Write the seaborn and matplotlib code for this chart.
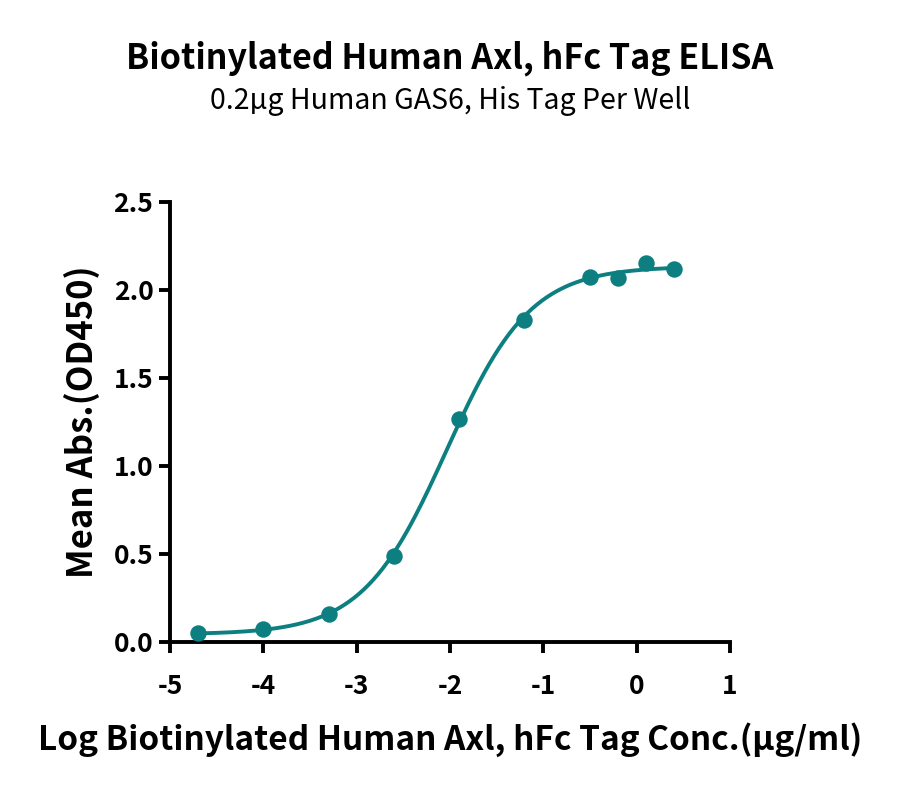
import numpy as np
import pandas as pd
import matplotlib
matplotlib.use("Agg")
import matplotlib.pyplot as plt
import seaborn as sns

# ---- data ----
log_conc = [-4.699, -4.0, -3.301, -2.602, -1.903, -1.204, -0.505, -0.204, 0.097, 0.398]
mean_abs = [0.051, 0.074, 0.161, 0.490, 1.266, 1.828, 2.073, 2.069, 2.155, 2.122]
x_ticks = [-5, -4, -3, -2, -1, 0, 1]
y_ticks = [0.0, 0.5, 1.0, 1.5, 2.0, 2.5]
title = "Biotinylated Human Axl, hFc Tag ELISA"
subtitle = "0.2\u00b5g Human GAS6, His Tag Per Well"
x_label = "Log Biotinylated Human Axl, hFc Tag Conc.(\u00b5g/ml)"
y_label = "Mean Abs.(OD450)"
color = "#0E7F80"

df = pd.DataFrame({"x": log_conc, "y": mean_abs})

# ---- 4PL fit (Gauss-Newton with damping) ----
def f4(p, x):
    b, t, c, h = p
    return b + (t - b) / (1 + 10 ** ((c - x) * h))

xd = np.array(log_conc); yd = np.array(mean_abs)
p = np.array([yd.min(), yd.max(), -2.0, 1.0])
lam = 1e-3
for _ in range(300):
    r = yd - f4(p, xd)
    J = np.zeros((len(xd), 4))
    for i in range(4):
        dp = np.zeros(4); dp[i] = 1e-6
        J[:, i] = (f4(p + dp, xd) - f4(p - dp, xd)) / 2e-6
    A = J.T @ J
    step = np.linalg.solve(A + lam * np.diag(np.diag(A)), J.T @ r)
    pn = p + step
    if np.sum((yd - f4(pn, xd)) ** 2) < np.sum(r ** 2):
        p = pn; lam *= 0.5
    else:
        lam *= 5
xf = np.linspace(min(log_conc), max(log_conc), 300)
fit = pd.DataFrame({"x": xf, "y": f4(p, xf)})

# ---- plot ----
sns.set_theme(style="ticks")
plt.rcParams["font.family"] = ["Noto Sans CJK SC", "DejaVu Sans"]
plt.rcParams["text.color"] = "black"
plt.rcParams["axes.labelcolor"] = "black"
plt.rcParams["xtick.color"] = "black"
plt.rcParams["ytick.color"] = "black"

W = "bold"

fig = plt.figure(figsize=(9, 7.88), dpi=100)
ax = fig.add_axes([170/900, 146/788, 560/900, 440/788])

sns.lineplot(data=fit, x="x", y="y", ax=ax, color=color, lw=2.8)
sns.scatterplot(data=df, x="x", y="y", ax=ax, color=color, s=140, edgecolor=color, linewidth=0, zorder=3, clip_on=False)

ax.set_xlim(-5, 1)
ax.set_ylim(0, 2.5)
ax.set_xticks(x_ticks)
ax.set_xticklabels([str(v) for v in x_ticks])
ax.set_yticks(y_ticks)
ax.set_yticklabels([f"{v:.1f}" for v in y_ticks])
for s in ["top", "right"]:
    ax.spines[s].set_visible(False)
for s in ["left", "bottom"]:
    ax.spines[s].set_linewidth(2.8)
    ax.spines[s].set_color("black")
ax.tick_params(axis="both", direction="out", length=8, width=2.8, color="black",
               labelsize=19, pad=4, labelcolor="black")
for lab in ax.get_xticklabels() + ax.get_yticklabels():
    lab.set_fontweight(W)
ax.tick_params(axis="x", pad=14)

ax.set_xlabel(x_label, fontsize=24, fontweight=W, labelpad=16, color="black")
ax.set_ylabel(y_label, fontsize=25, fontweight=W, labelpad=10, color="black")

fig.text(0.5, 1 - 58/788, title, ha="center", va="center", fontsize=24.5, fontweight=W, color="black")
fig.text(0.5, 1 - 101/788, subtitle, ha="center", va="center", fontsize=20.5, color="black")

fig.savefig("out.png", dpi=100)
